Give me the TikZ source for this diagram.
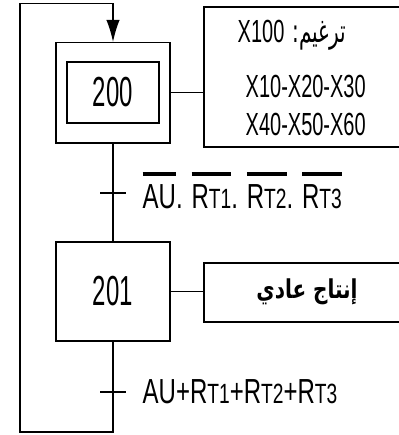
\documentclass[tikz,border=0pt]{standalone}
\usepackage{fontspec}
\usepackage{graphicx}
\setmainfont{Liberation Sans}
\newfontfamily\arabicfont[Script=Arabic]{DejaVu Sans}
\TeXXeTstate=1
\usetikzlibrary{arrows.meta}

\newcommand\tall[2]{\scalebox{1}[#1]{#2}}
\newcommand\rtx[1]{R{\fontsize{14.4}{14.4}\selectfont T#1}}
\newcommand\inv[1]{\setbox0\hbox{#1}\rlap{\rule[0.93em]{\wd0}{0.1em}}\box0}

\tikzset{
  stepbox/.style={draw, line width=1pt, inner sep=0pt},
  actbox/.style={draw, line width=1.4pt, inner sep=0pt, minimum width=169.5pt},
  numtxt/.style={font=\fontsize{18}{18}\selectfont},
  acttxt/.style={font=\fontsize{15}{15}\selectfont, inner sep=0pt},
  cndtxt/.style={font=\fontsize{18}{18}\selectfont, inner sep=0pt, anchor=base west},
}

\begin{document}
\begin{tikzpicture}[x=0.75pt, y=-0.75pt, line width=1pt]
    \useasboundingbox (0,0) rectangle (399,435);
    \clip (0,0) rectangle (399,435);

    \node[stepbox, minimum width=85.7pt, minimum height=75.2pt] (s200) at (113,92.8) {};
    \node[stepbox, numtxt, minimum width=69.2pt, minimum height=45.8pt] (s200in) at (113,92.5) {\tall{1.75}{200}};
    \node[stepbox, numtxt, minimum width=85.5pt, minimum height=74.3pt] (s201) at (113,291.5) {\tall{1.75}{201}};

    \node[actbox, minimum height=105pt] (a200) at (317,77) {};
    \node[actbox, minimum height=44.3pt] (a201) at (317,292.5) {};

    \node[acttxt, anchor=base west] (l1) at (237,43) {\tall{1.6}{\arabicfont\beginR ترغيم: \beginL{\rmfamily X100}\endL\endR}};
    \node[acttxt, anchor=base west] (l2) at (245,97) {\tall{1.6}{X10-X20-X30}};
    \node[acttxt, anchor=base west] (l3) at (245,135) {\tall{1.6}{X40-X50-X60}};
    \node[acttxt] (l4) at (307,292) {\tall{1.3}{\arabicfont\bfseries\beginR إنتاج عادي\endR}};

    \coordinate (t1) at (113,193);
    \coordinate (t2) at (113,392);
    \coordinate (loopbl) at (20,432);
    \coordinate (looptl) at (20,3.3);

    \draw (s200.east) -- (s200.east -| a200.west);
    \draw (s201.east) -- (s201.east -| a201.west);

    \draw (s200.south) -- (s201.north);
    \draw (t1) ++(-13,0) -- ++(26,0);
    \draw (t2) ++(-13,0) -- ++(26,0);
    \draw[-{Latex[length=16.5pt, width=10pt]}] (s201.south) |- (loopbl) -- (looptl) -| (s200.north);

    \node[cndtxt] (c1) at (142,208) {\tall{1.45}{\inv{AU}. \inv{\rtx{1}}. \inv{\rtx{2}}. \inv{\rtx{3}}}};
    \node[cndtxt] (c2) at (142,403) {\tall{1.45}{AU+\rtx{1}+\rtx{2}+\rtx{3}}};
\end{tikzpicture}
\end{document}
